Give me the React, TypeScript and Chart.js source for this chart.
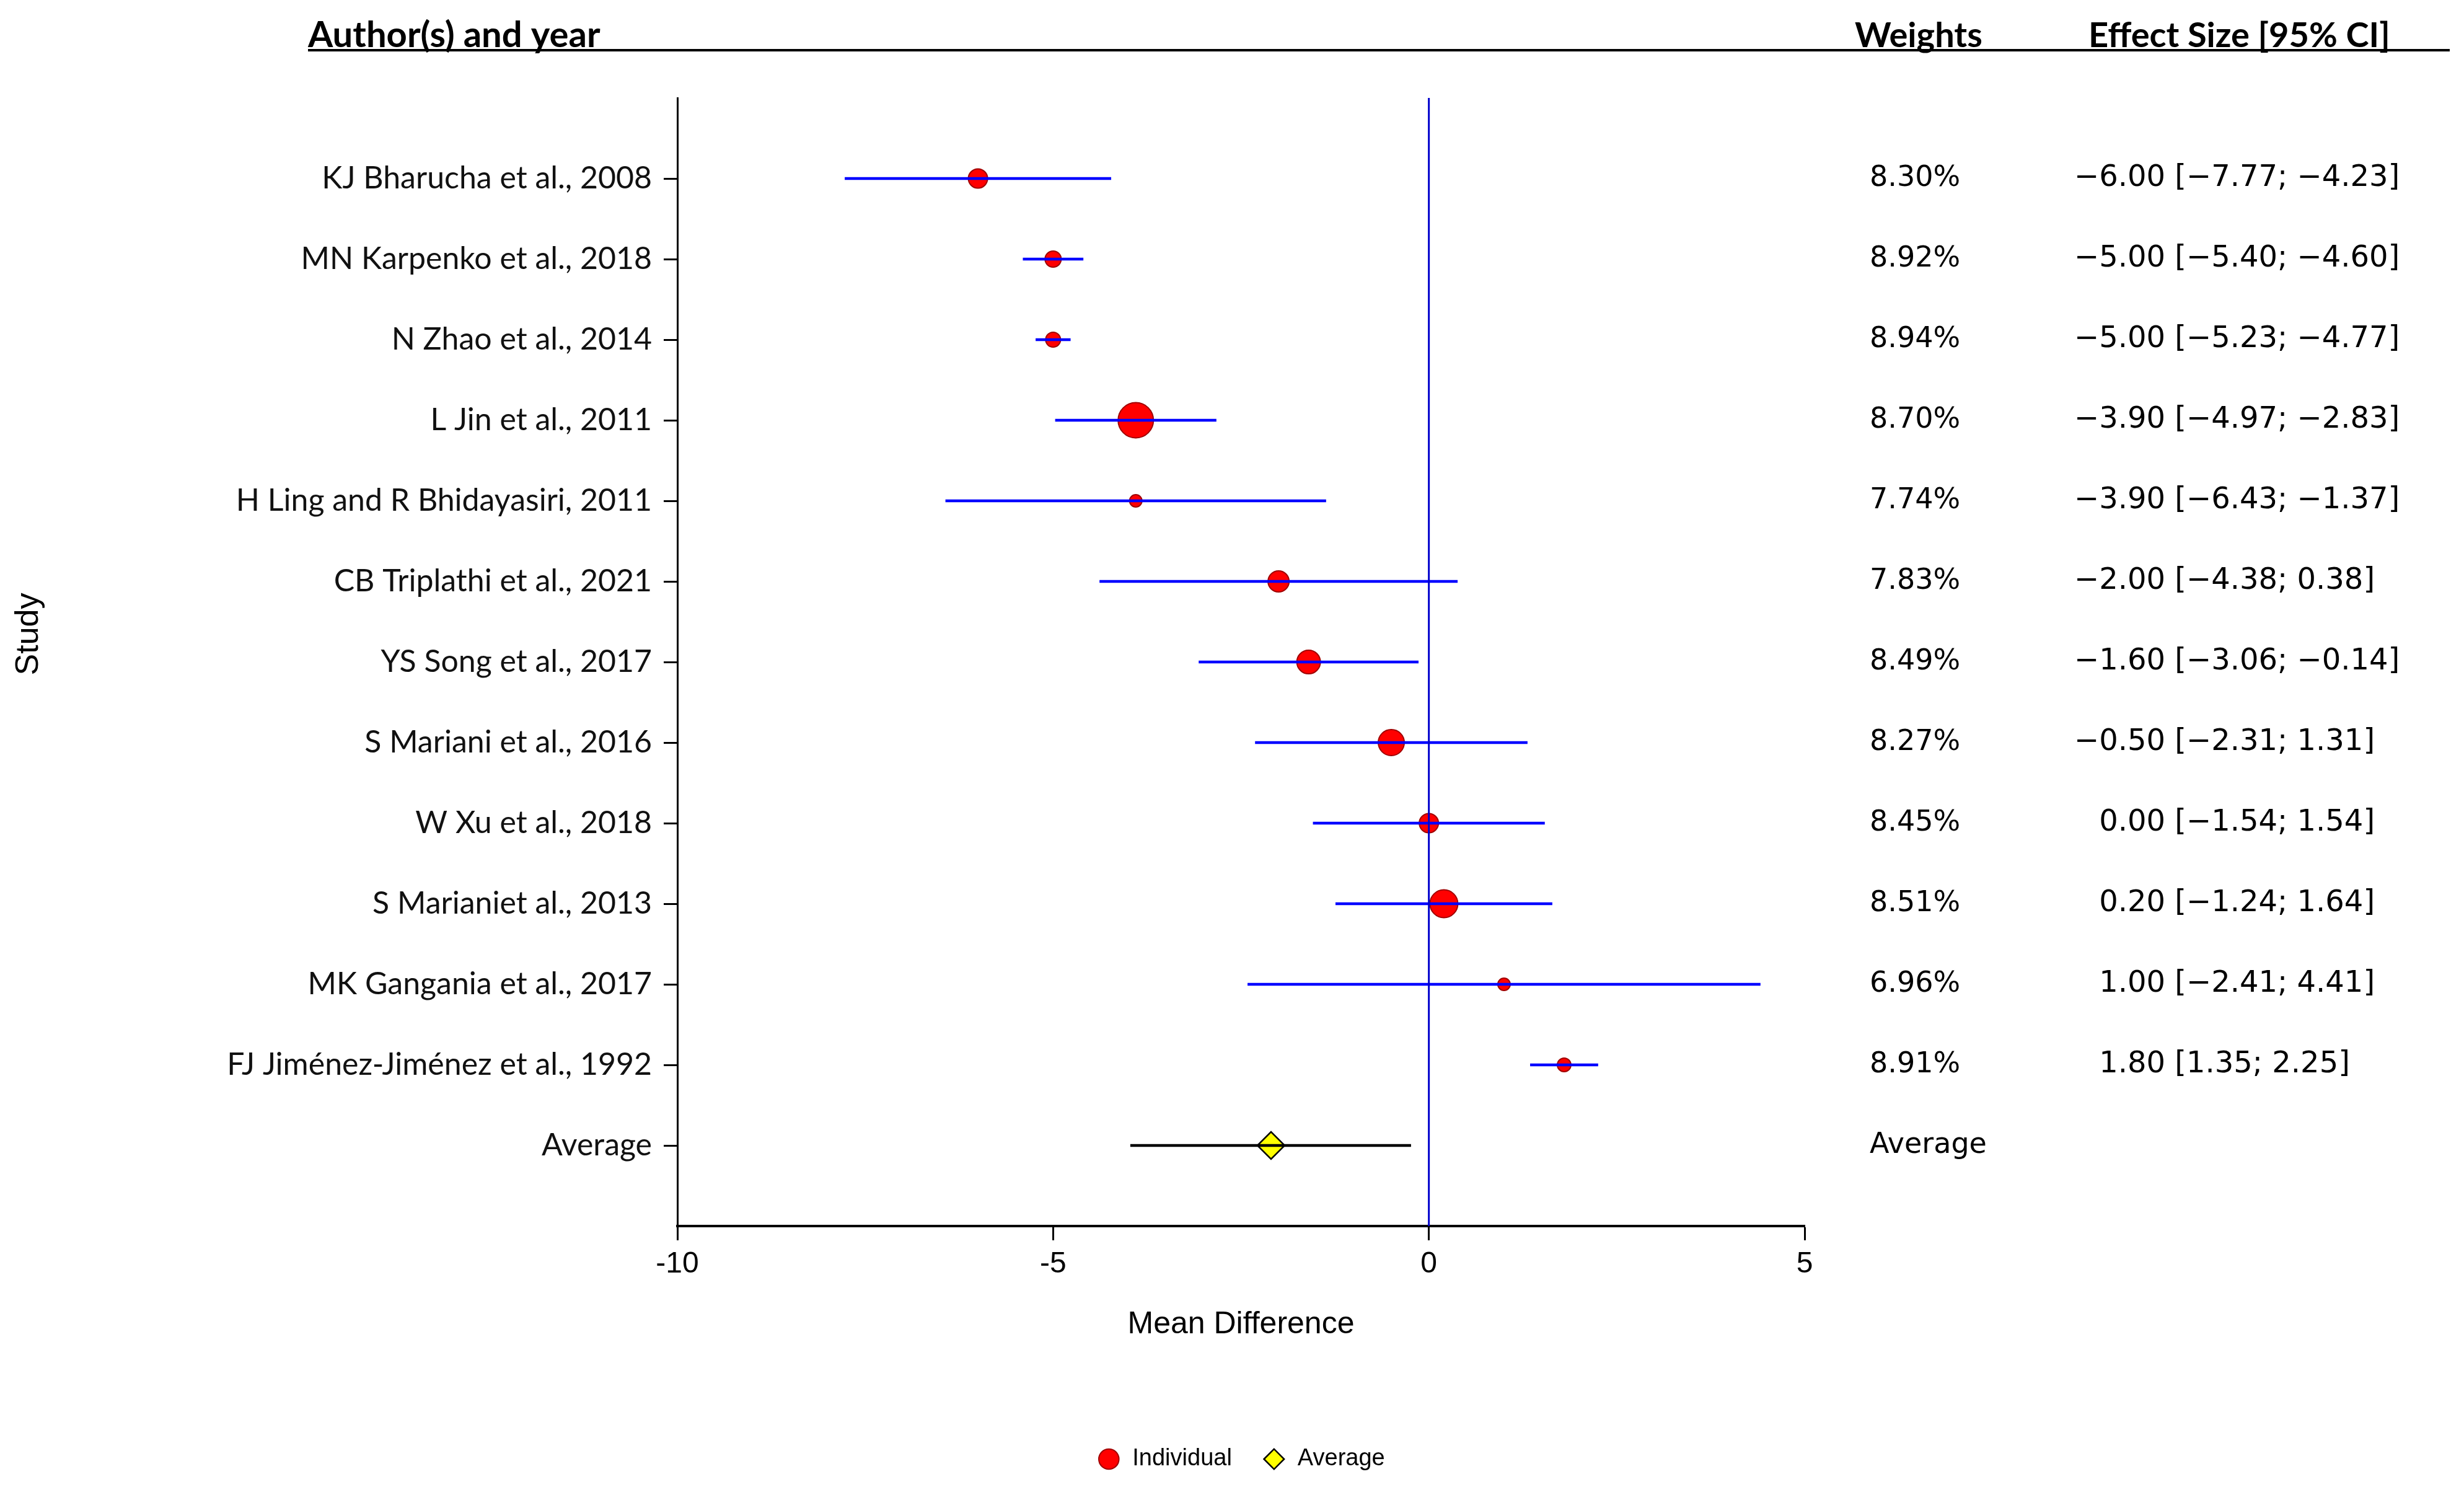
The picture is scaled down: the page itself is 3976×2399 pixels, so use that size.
import React, { useEffect, useRef } from "react";
import { Chart, registerables } from "chart.js";

Chart.register(...registerables);

// ---- data ----
const studies: string[] = [
  "KJ Bharucha et al., 2008",
  "MN Karpenko et al., 2018",
  "N Zhao et al., 2014",
  "L Jin et al., 2011",
  "H Ling and R Bhidayasiri, 2011",
  "CB Triplathi et al., 2021",
  "YS Song et al., 2017",
  "S Mariani et al., 2016",
  "W Xu et al., 2018",
  "S Marianiet al., 2013",
  "MK Gangania et al., 2017",
  "FJ Jiménez-Jiménez et al., 1992",
];
const estimates: number[] = [-6.0, -5.0, -5.0, -3.9, -3.9, -2.0, -1.6, -0.5, 0.0, 0.2, 1.0, 1.8];
const ciLower: number[] = [-7.77, -5.4, -5.23, -4.97, -6.43, -4.38, -3.06, -2.31, -1.54, -1.24, -2.41, 1.35];
const ciUpper: number[] = [-4.23, -4.6, -4.77, -2.83, -1.37, 0.38, -0.14, 1.31, 1.54, 1.64, 4.41, 2.25];
const weightsPct: number[] = [8.3, 8.92, 8.94, 8.7, 7.74, 7.83, 8.49, 8.27, 8.45, 8.51, 6.96, 8.91];
const markerSizes: number[] = [15.5, 13, 12, 28.5, 10, 17, 19, 21, 15.5, 22.5, 10, 11];
const averageLabel = "Average";
const averageEstimate = -2.1;
const averageLower = -3.97;
const averageUpper = -0.24;
const xTicks: number[] = [-10, -5, 0, 5];

const rowLabels: string[] = [...studies, averageLabel];

function fmt(v: number): string {
  const s = Math.abs(v).toFixed(2);
  return v < 0 ? "\u2212" + s : s;
}

const textPlugin = {
  id: "forestText",
  afterDraw(chart: any) {
    const ctx: CanvasRenderingContext2D = chart.ctx;
    const yScale = chart.scales.y;
    ctx.save();
    ctx.fillStyle = "#000";
    // headers
    ctx.textAlign = "left";
    ctx.textBaseline = "alphabetic";
    ctx.font = "bold 58px Lato";
    ctx.fillText("Author(s) and year", 497, 76);
    ctx.font = "bold 56px Lato";
    ctx.fillText("Weights", 2993, 76);
    ctx.fillText("Effect Size [95% CI]", 3370, 76);
    ctx.strokeStyle = "#000";
    ctx.lineWidth = 4;
    ctx.beginPath();
    ctx.moveTo(497, 81);
    ctx.lineTo(3953, 81);
    ctx.stroke();

    // weights column
    ctx.textBaseline = "middle";
    ctx.font = '46px "DejaVu Sans"';
    weightsPct.forEach((w, i) => {
      ctx.fillText(w.toFixed(2) + "%", 3017, yScale.getPixelForValue(i));
    });
    ctx.fillText(averageLabel, 3017, yScale.getPixelForValue(studies.length));

    // effect size column
    ctx.font = '48px "DejaVu Sans"';
    estimates.forEach((e, i) => {
      const first = fmt(e);
      const rest = ` [${fmt(ciLower[i])}; ${fmt(ciUpper[i])}]`;
      const w = ctx.measureText(first).width;
      ctx.fillText(first + rest, 3494 - w, yScale.getPixelForValue(i));
    });

    // y-axis title
    ctx.translate(47, 1023);
    ctx.rotate(-Math.PI / 2);
    ctx.textAlign = "center";
    ctx.font = '52px "Liberation Sans"';
    ctx.fillText("Study", 0, 0);
    ctx.restore();
  },
};

export default function App() {
  const canvasRef = useRef<HTMLCanvasElement | null>(null);

  useEffect(() => {
    document.body.style.margin = "0";
    const canvas = canvasRef.current;
    if (!canvas) return;
    const nRows = rowLabels.length;

    const chart = new Chart(canvas, {
      type: "scatter",
      data: {
        datasets: [
          {
            type: "line",
            label: "zero",
            data: [
              { x: 0, y: -1 },
              { x: 0, y: nRows },
            ],
            borderColor: "#0000CC",
            borderWidth: 3,
            pointRadius: 0,
            order: 1,
          } as any,
          {
            type: "bar",
            label: "ci",
            indexAxis: "y",
            data: [
              ...studies.map((_, i) => ({ y: i, x: [ciLower[i], ciUpper[i]] })),
              { y: studies.length, x: [averageLower, averageUpper] },
            ],
            backgroundColor: [...studies.map(() => "#0000FF"), "#000000"],
            borderWidth: 0,
            barThickness: 4,
            grouped: false,
            order: 2,
          } as any,
          {
            type: "scatter",
            label: "Individual",
            data: estimates.map((e, i) => ({ x: e, y: i })),
            pointStyle: "circle",
            pointRadius: markerSizes,
            pointBackgroundColor: "#FF0000",
            pointBorderColor: "#A00000",
            pointBorderWidth: 2,
            backgroundColor: "#FF0000",
            borderColor: "#A00000",
            order: 5,
          } as any,
          {
            type: "scatter",
            label: "Average",
            data: [{ x: averageEstimate, y: studies.length }],
            pointStyle: "rectRot",
            pointRadius: 22,
            pointBackgroundColor: "#FFFF00",
            pointBorderColor: "#000000",
            pointBorderWidth: 2.5,
            backgroundColor: "#FFFF00",
            borderColor: "#000000",
            order: 6,
          } as any,
        ],
      },
      options: {
        animation: false,
        responsive: false,
        devicePixelRatio: 1,
        layout: { padding: { left: 0, top: 158, right: 1064, bottom: 16 } },
        plugins: {
          tooltip: { enabled: false },
          legend: {
            display: true,
            position: "bottom",
            fullSize: false,
            labels: {
              usePointStyle: true,
              boxWidth: 38,
              boxHeight: 23,
              padding: 49,
              color: "#000",
              font: { family: "Liberation Sans", size: 38 },
              filter: (item: any) => item.text === "Individual" || item.text === "Average",
            },
          },
        },
        scales: {
          x: {
            type: "linear",
            offset: false,
            min: xTicks[0],
            max: xTicks[xTicks.length - 1],
            afterBuildTicks: (axis: any) => {
              axis.ticks = xTicks.map((v) => ({ value: v }));
            },
            afterFit: (axis: any) => {
              axis.height = 308;
            },
            grid: {
              offset: false,
              drawOnChartArea: false,
              drawTicks: true,
              tickLength: 23,
              tickColor: "#000",
              tickWidth: 3,
            },
            border: { display: true, color: "#000", width: 4 },
            ticks: {
              padding: 10,
              color: "#000",
              font: { family: "Liberation Sans", size: 48 },
              callback: (v: any) => String(v),
            },
            title: {
              display: true,
              text: "Mean Difference",
              color: "#000",
              font: { family: "Liberation Sans", size: 50 },
              padding: { top: 0, bottom: 119 },
            },
          },
          y: {
            type: "linear",
            offset: false,
            reverse: true,
            min: -1,
            max: nRows,
            afterBuildTicks: (axis: any) => {
              axis.ticks = rowLabels.map((_, i) => ({ value: i }));
            },
            afterFit: (axis: any) => {
              axis.width = 1093;
            },
            grid: {
              offset: false,
              drawOnChartArea: false,
              drawTicks: true,
              tickLength: 22,
              tickColor: "#000",
              tickWidth: 3,
            },
            border: { display: true, color: "#000", width: 3 },
            ticks: {
              padding: 19,
              autoSkip: false,
              color: "#111",
              font: { family: "Lato", size: 50 },
              callback: (v: any) => rowLabels[v] ?? "",
            },
          },
        },
      },
      plugins: [textPlugin],
    } as any);

    return () => chart.destroy();
  }, []);

  return (
    <div style={{ width: 3976, height: 2399, background: "#fff" }}>
      <canvas ref={canvasRef} width={3976} height={2399} style={{ display: "block" }} />
    </div>
  );
}
